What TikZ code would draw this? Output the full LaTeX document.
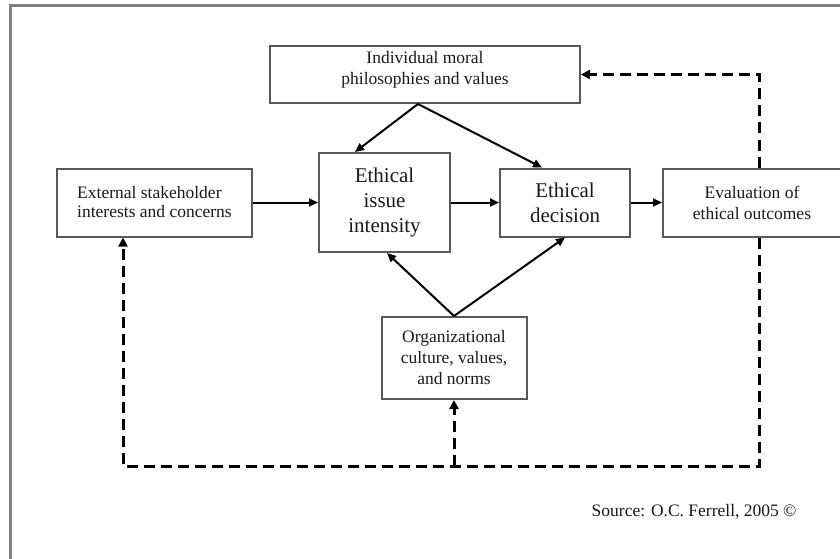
\documentclass[tikz,border=0pt]{standalone}
\usepackage{fontspec}
\setmainfont{Liberation Serif}
\usetikzlibrary{positioning, arrows.meta}

\begin{document}
\begin{tikzpicture}[x=1pt, y=-1pt, thick,
    main/.style = {draw=black!65, line width=2pt, rectangle, inner sep=0pt, align=center, text=black!90, font=\fontsize{17.5}{21}\selectfont},
    big/.style = {main, font=\fontsize{21}{25}\selectfont},
    link/.style = {line width=2pt, -{Triangle[length=9pt, width=8pt]}},
    back/.style = {line width=3pt, dash pattern=on 11pt off 6pt, -{Triangle[length=9pt, width=9pt]}}]
                \useasboundingbox (0,0) rectangle (840,559);
                % Frame
                \draw[black!50, line width=3pt] (10,559) |- (840,6);

                % Nodes
                \node[main, minimum width=195pt, minimum height=68pt, align=left, font=\fontsize{17.5}{19}\selectfont] (ext) at (154.5,202.5) {External stakeholder\\interests and concerns};
                \node[big, minimum width=131pt, minimum height=99pt] (issue) [right=65pt of ext] {Ethical\\issue\\intensity};
                \node[big, minimum width=130pt, minimum height=68pt] (decision) [right=48pt of issue] {Ethical\\decision};
                \node[main, minimum width=178pt, minimum height=68pt] (eval) [right=31pt of decision] {Evaluation of\\ethical outcomes};
                \node[main, minimum width=310pt, minimum height=57pt, text depth=14pt] (moral) [above=48pt of issue, xshift=40.5pt] {Individual moral\\philosophies and values};
                \node[main, minimum width=145pt, minimum height=82pt] (org) [below=63pt of issue, xshift=69.5pt] {Organizational\\culture, values,\\and norms};
                \coordinate[below=66pt of org] (loop);
                \node[anchor=west, text=black!90, font=\fontsize{17.5}{21}\selectfont] (src) at (588,512) {Source: O.C. Ferrell, 2005 ©};

                % Lines
                \draw[link] (ext) -- (issue);
                \draw[link] (issue) -- (decision);
                \draw[link] (decision) -- (eval);
                \draw[link] ([xshift=-7pt]moral.south) -- ([xshift=-29.5pt]issue.north);
                \draw[link] ([xshift=-7pt]moral.south) -- ([xshift=-23pt]decision.north);
                \draw[link] (org.north) -- ([xshift=2.5pt]issue.south);
                \draw[link] (org.north) -- (decision.south);

                % Feedback
                \draw[back] ([xshift=7pt]eval.north) |- (moral.east);
                \draw[back] ([xshift=7pt]eval.south) |- (loop) -| ([xshift=-31.5pt]ext.south);
                \draw[back] (loop) -- (org.south);
            \end{tikzpicture}
\end{document}
